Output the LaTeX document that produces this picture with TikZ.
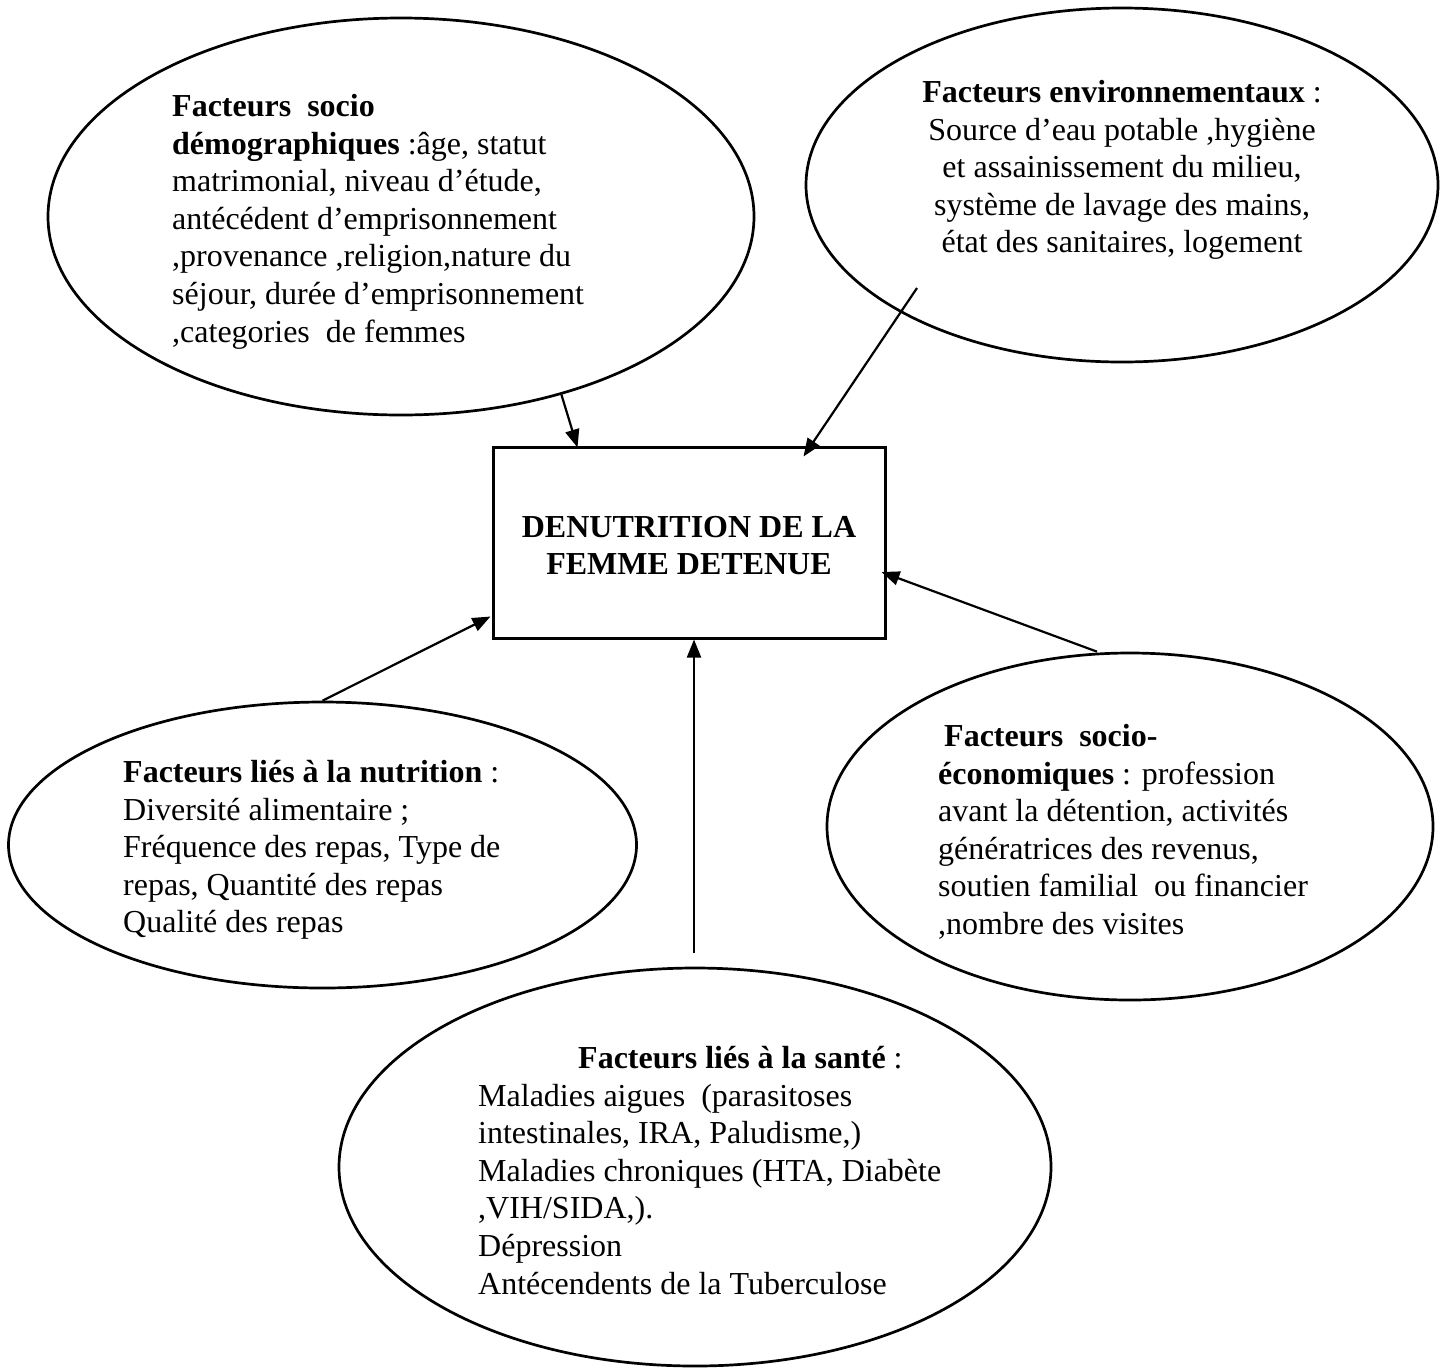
\documentclass[tikz,border=0pt]{standalone}
\usepackage{fontspec}
\setmainfont{Liberation Serif}
\usetikzlibrary{shapes.geometric,arrows.meta}
\begin{document}
\begin{tikzpicture}[x=1pt,y=-1pt,
  factor/.style={draw, ellipse, line width=2.7pt, inner sep=0pt},
  mainbox/.style={draw, rectangle, line width=3pt, inner sep=0pt},
  txt/.style={inner sep=0pt, font=\fontsize{32}{37.6}\selectfont, align=left},
  ctxt/.style={inner sep=0pt, font=\fontsize{32}{37.6}\selectfont, align=center},
  arr/.style={-{Triangle[length=18pt,width=14pt]}, line width=2.2pt}]
\useasboundingbox (0,0) rectangle (1448,1369);
\fill[white] (0,0) rectangle (1448,1369);

% shapes
\node[factor, minimum width=706pt, minimum height=397pt] (sd) at (401,216.5) {};
\node[factor, minimum width=632pt, minimum height=354pt] (env) at (1122,185) {};
\node[factor, minimum width=628pt, minimum height=286pt] (nut) at (322.5,845) {};
\node[factor, minimum width=606pt, minimum height=347pt] (eco) at (1130,826.5) {};
\node[factor, minimum width=712pt, minimum height=398pt] (san) at (695,1167) {};
\node[mainbox, minimum width=392pt, minimum height=191pt] (box) at (689,542.5) {};

% texts
\node[txt, anchor=north west] (tsd) at (172,90) {%
\strut\textbf{Facteurs\ \ socio}\\
\strut\textbf{démographiques} :âge, statut\\
\strut matrimonial, niveau d’étude,\\
\strut antécédent d’emprisonnement\\
\strut ,provenance ,religion,nature du\\
\strut séjour, durée d’emprisonnement\\
\strut ,categories\ \ de femmes};

\node[ctxt, anchor=north] (tenv) at (1122,76) {%
\strut\textbf{Facteurs environnementaux} :\\
\strut Source d’eau potable ,hygiène\\
\strut et assainissement du milieu,\\
\strut système de lavage des mains,\\
\strut état des sanitaires, logement};

\node[ctxt, anchor=north, font=\fontsize{32}{37}\selectfont\bfseries] (tbox) at (689,511) {%
\strut DENUTRITION DE LA\\
\strut FEMME DETENUE};

\node[txt, anchor=north west] (tnut) at (123,756) {%
\strut\textbf{Facteurs liés à la nutrition} :\\
\strut Diversité alimentaire ;\\
\strut Fréquence des repas, Type de\\
\strut repas, Quantité des repas\\
\strut Qualité des repas};

\node[txt, anchor=north west] (teco) at (938,720) {%
\strut\hspace*{6pt}\textbf{Facteurs\ \ socio-}\\
\strut\textbf{économiques} : profession\\
\strut avant la détention, activités\\
\strut génératrices des revenus,\\
\strut soutien familial\ \ ou financier\\
\strut ,nombre des visites};

\node[txt, anchor=north west] (tsan) at (478,1042) {%
\strut\hspace*{100pt}\textbf{Facteurs liés à la santé} :\\
\strut Maladies aigues\ \ (parasitoses\\
\strut intestinales, IRA, Paludisme,)\\
\strut Maladies chroniques (HTA, Diabète\\
\strut ,VIH/SIDA,).\\
\strut Dépression\\
\strut Antécendents de la Tuberculose};

% connectors
\coordinate (a4s) at (694,953);
\draw[arr] (sd.-48.7) -- ([shift={(86,2)}]box.north west);
\draw[arr] ([shift={(-205,103)}]env.center) -- ([shift={(312,11)}]box.north west);
\draw[arr] (nut.north) -- ([shift={(-1,171)}]box.north west);
\draw[arr] (a4s) -- ([xshift=5pt]box.south);
\draw[arr] ([xshift=-33pt]eco.north) -- ([shift={(-5,29.5)}]box.east);
\end{tikzpicture}
\end{document}
